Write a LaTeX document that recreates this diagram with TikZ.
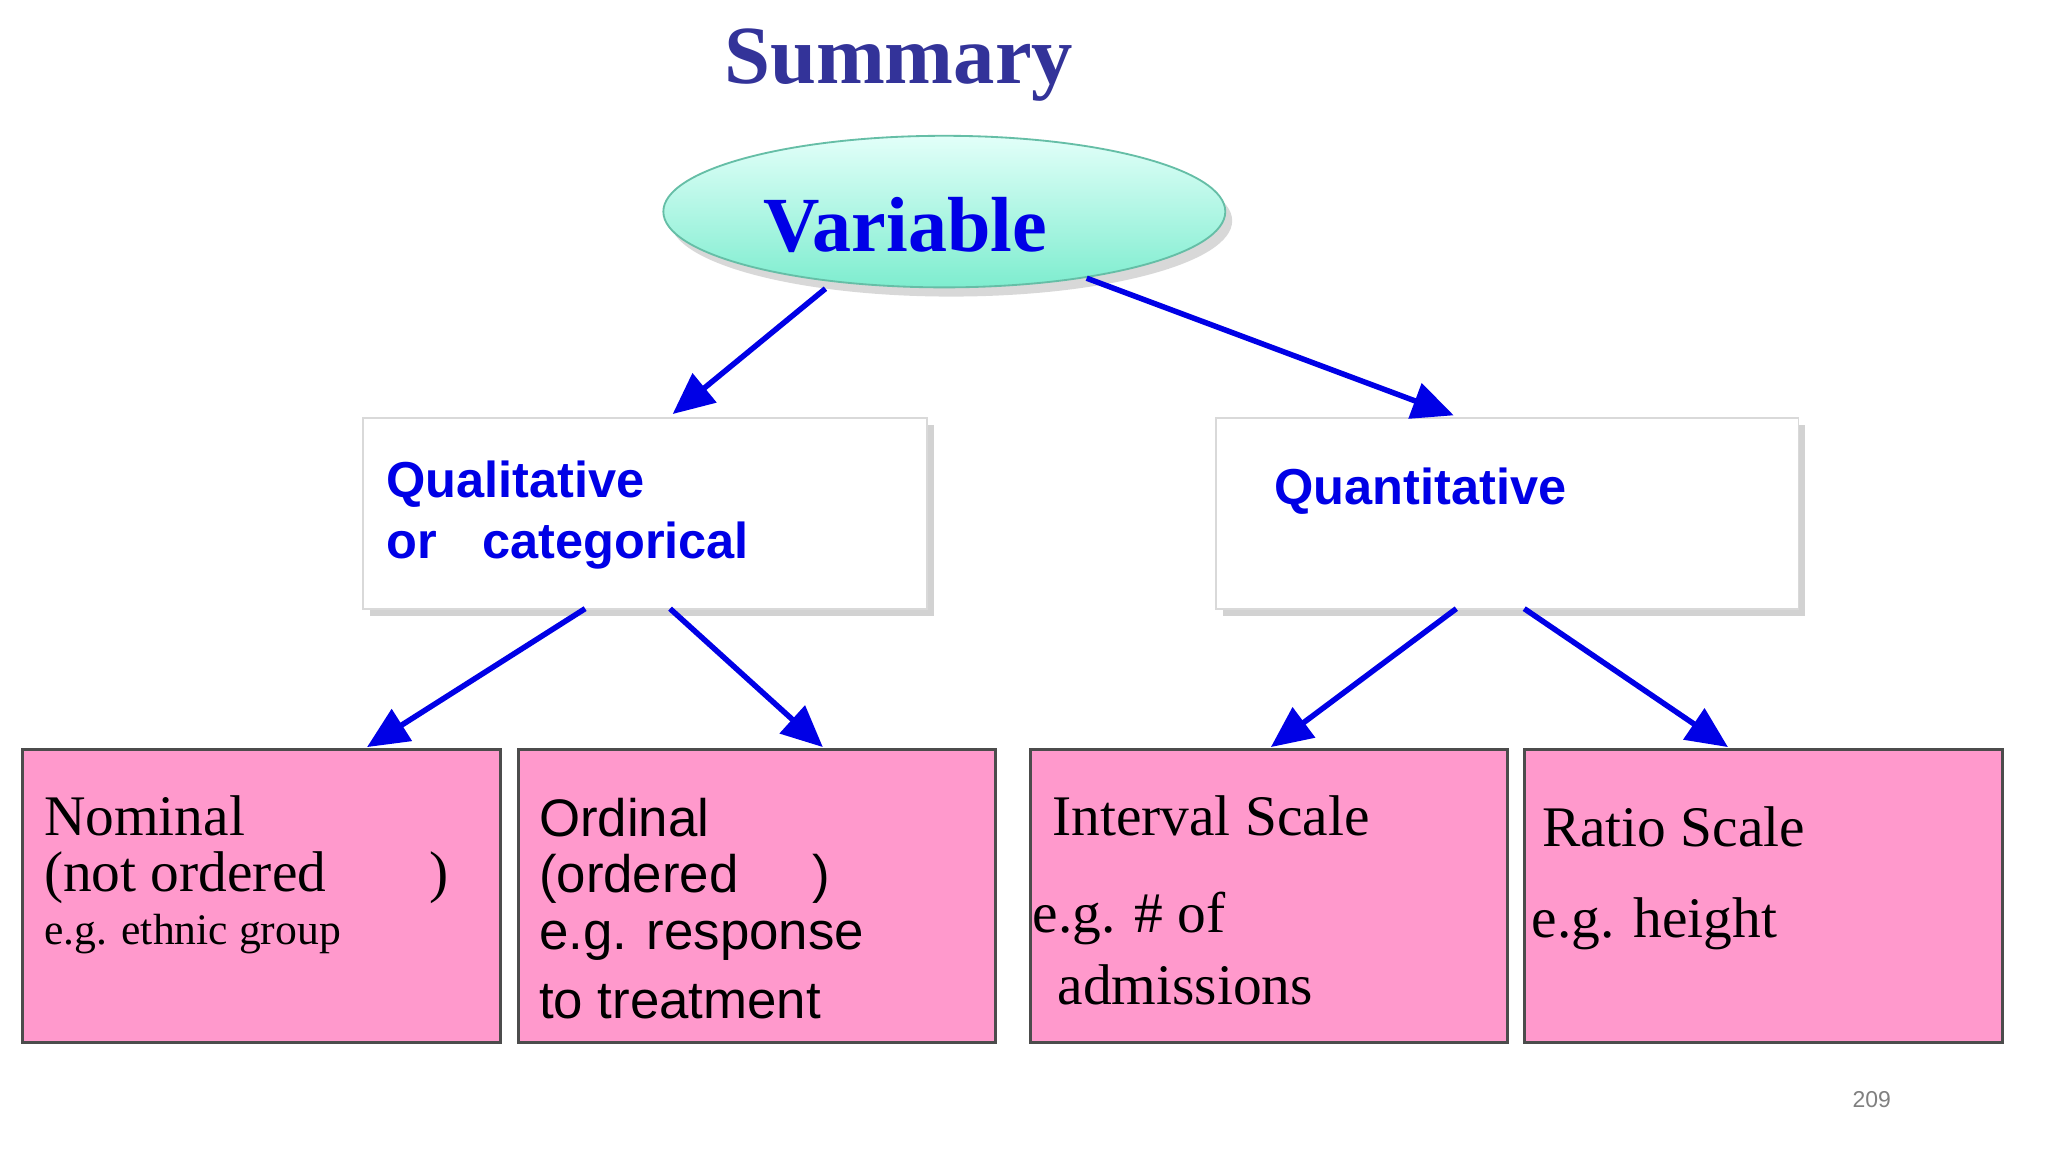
\documentclass[tikz,border=0pt]{standalone}
\usepackage{fontspec}
\setmainfont{Liberation Serif}
\newfontfamily\sansf{Liberation Sans}
\usetikzlibrary{arrows.meta,shapes.geometric,shadows}
\definecolor{titleblue}{HTML}{333399}
\definecolor{vblue}{HTML}{0000E6}
\definecolor{pinkbox}{HTML}{FF99CC}
\definecolor{aqtop}{HTML}{E2FFF9}
\definecolor{aqbot}{HTML}{7EEDCF}
\begin{document}
\begin{tikzpicture}[x=0.01cm,y=-0.01cm,
  arr/.style={draw=vblue,line width=1.2pt,-{Triangle[length=9pt,width=8pt]}},
  wbox/.style={draw=gray!30,fill=white,drop shadow={shadow xshift=1.5pt,shadow yshift=-1.5pt,opacity=0.35}},
  pbox/.style={draw=black!70,fill=pinkbox,line width=0.6pt},
  ser/.style={anchor=west,font=\fontsize{12.5}{14}\selectfont,inner sep=0},
  sans/.style={anchor=west,font=\sansf\fontsize{11.5}{14}\selectfont,inner sep=0},
  bsans/.style={anchor=west,font=\sansf\bfseries\fontsize{11}{14}\selectfont,text=vblue,inner sep=0}]
\useasboundingbox (0,0) rectangle (1568,882);
\fill[white] (0,0) rectangle (1568,882);
\node[font=\bfseries\fontsize{18}{20}\selectfont,text=titleblue] (title) at (688,50) {Summary};
\node[ellipse,minimum width=432\pgflinewidth,inner sep=0,draw=aqbot!80!black,top color=aqtop,bottom color=aqbot,
  minimum width=4.3cm,minimum height=1.16cm,drop shadow={shadow xshift=1.5pt,shadow yshift=-2pt,opacity=0.3}] (var) at (723,162) {};
\node[font=\bfseries\fontsize{17}{20}\selectfont,text=vblue] (vart) at (693,172) {Variable};
\draw[wbox] (278,320) rectangle (710,466);
\node[bsans] (q1) at (295,371) {Qualitative};
\node[bsans] (q2) at (295,418) {or\hspace{0.9em}categorical};
\draw[wbox] (931,320) rectangle (1377,466);
\node[bsans] (qn) at (975,376) {Quantitative};
\draw[pbox] (17,574) rectangle (383,798);
\draw[pbox] (397,574) rectangle (762,798);
\draw[pbox] (789,574) rectangle (1154,798);
\draw[pbox] (1167,574) rectangle (1533,798);
\node[ser] (n1) at (33,625) {Nominal};
\node[ser] (n2) at (33,672) {(not ordered\hspace{1.8em})};
\node[ser,font=\fontsize{9.5}{11}\selectfont] (n3) at (33,715) {e.g. ethnic group};
\node[sans] (o1) at (412,626) {Ordinal};
\node[sans] (o2) at (412,673) {(ordered\hspace{1.4em})};
\node[sans] (o3) at (412,720) {e.g. response};
\node[sans] (o4) at (412,767) {to treatment};
\node[ser] (i1) at (805,625) {Interval Scale};
\node[ser] (i2) at (790,703) {e.g. \# of};
\node[ser] (i3) at (809,754) {admissions};
\node[ser] (r1) at (1180,633) {Ratio Scale};
\node[ser] (r2) at (1172,707) {e.g. height};
\node[text=gray,font=\sansf\fontsize{5}{6}\selectfont] (pg) at (1433,842) {209};
\coordinate (a1) at (632,221); \coordinate (b1) at (515,317);
\coordinate (a2) at (832,213); \coordinate (b2) at (1113,318);
\coordinate (a3) at (448,466); \coordinate (b3) at (281,572);
\coordinate (a4) at (513,466); \coordinate (b4) at (630,572);
\coordinate (a5) at (1115,466); \coordinate (b5) at (973,572);
\coordinate (a6) at (1167,466); \coordinate (b6) at (1323,572);
\foreach \i in {1,...,6} \draw[arr] (a\i) -- (b\i);
\end{tikzpicture}
\end{document}
